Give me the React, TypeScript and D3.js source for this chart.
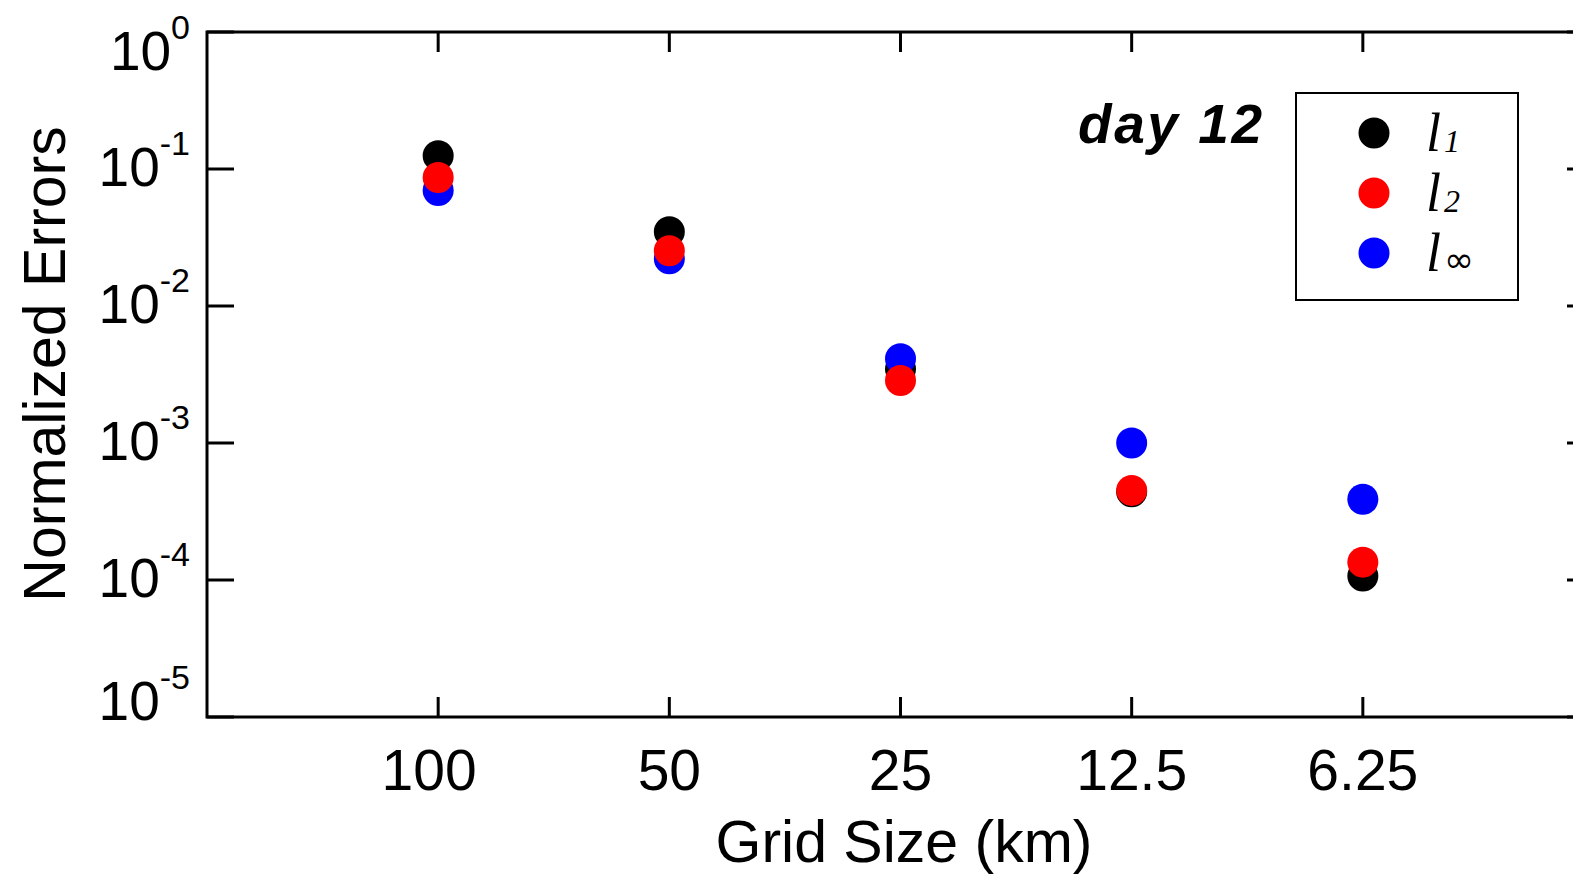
import React from "react";
import * as d3 from "d3";

// grid sizes on the x axis (km), in plotted order
const gridSizes = ["100", "50", "25", "12.5", "6.25"];

// normalized errors (day 12)
const l1Errors = [0.125, 0.0349, 0.00347, 0.00044, 0.000107];
const l2Errors = [0.0866, 0.0253, 0.00286, 0.000451, 0.000135];
const lInfErrors = [0.0696, 0.0221, 0.00412, 0.001, 0.000388];

// decade ticks of the y axis
const yExponents = [0, -1, -2, -3, -4, -5];

const series = [
  { name: "l1", sub: "1", color: "#000000", values: l1Errors },
  { name: "linf", sub: "\u221e", color: "#0000ff", values: lInfErrors },
  { name: "l2", sub: "2", color: "#ff0000", values: l2Errors },
];
const legendOrder = ["l1", "l2", "linf"];

const W = 1573;
const H = 876;
const margin = { left: 207, right: 1594, top: 32, bottom: 717 };
const font = "'Liberation Sans', Arial, Helvetica, sans-serif";

const App = () => {
  const x = d3
    .scalePoint<string>()
    .domain(gridSizes)
    .range([margin.left, margin.right])
    .padding(1);

  const y = d3
    .scaleLog()
    .domain([1e-5, 1])
    .range([margin.bottom, margin.top]);

  const yTicks = yExponents.map((e) => Math.pow(10, e));

  // label baselines relative to tick (ends pushed inside the frame)
  const labelOffset = (i: number) =>
    i === 0 ? 38 : i === yTicks.length - 1 ? 3 : 17;

  return (
    <svg
      width={W}
      height={H}
      style={{ position: "absolute", left: 0, top: 0, background: "#fff" }}
      fontFamily={font}
    >
      {/* frame */}
      <rect
        x={margin.left}
        y={margin.top}
        width={margin.right - margin.left}
        height={margin.bottom - margin.top}
        fill="none"
        stroke="#000"
        strokeWidth={3}
      />

      {/* y ticks, left and right, and labels */}
      {yTicks.map((t, i) => (
        <g key={"y" + i}>
          <line
            x1={margin.left}
            x2={margin.left + 27}
            y1={y(t)}
            y2={y(t)}
            stroke="#000"
            strokeWidth={3}
          />
          <line
            x1={margin.right}
            x2={margin.right - 27}
            y1={y(t)}
            y2={y(t)}
            stroke="#000"
            strokeWidth={3}
          />
          <text
            x={190}
            y={y(t) + labelOffset(i)}
            textAnchor="end"
            fontSize={55}
          >
            10
            <tspan dy={-31} fontSize={34}>
              {String(yExponents[i])}
            </tspan>
          </text>
        </g>
      ))}

      {/* x ticks, bottom and top, and labels */}
      {gridSizes.map((g, i) => (
        <g key={"x" + g}>
          <line
            x1={x(g)}
            x2={x(g)}
            y1={margin.bottom}
            y2={margin.bottom - 20}
            stroke="#000"
            strokeWidth={3}
          />
          <line
            x1={x(g)}
            x2={x(g)}
            y1={margin.top}
            y2={margin.top + 20}
            stroke="#000"
            strokeWidth={3}
          />
          <text
            x={x(g)}
            dx={i === 0 ? -9 : 0}
            y={790}
            textAnchor="middle"
            fontSize={57}
          >
            {g}
          </text>
        </g>
      ))}

      {/* axis titles */}
      <text x={904} y={862} textAnchor="middle" fontSize={59}>
        Grid Size (km)
      </text>
      <text
        transform={`translate(65,364) rotate(-90)`}
        textAnchor="middle"
        fontSize={59}
      >
        Normalized Errors
      </text>

      {/* data points: black, then blue, then red on top */}
      {series.map((s) => (
        <g key={s.name}>
          {s.values.map((v, i) => (
            <circle
              key={i}
              cx={x(gridSizes[i])}
              cy={y(v)}
              r={15.5}
              fill={s.color}
            />
          ))}
        </g>
      ))}

      {/* annotation */}
      <text
        x={1078}
        y={143}
        fontSize={55}
        fontWeight="bold"
        fontStyle="italic"
        textLength={184}
        lengthAdjust="spacing"
      >
        day 12
      </text>

      {/* legend */}
      <rect
        x={1296}
        y={93}
        width={222}
        height={207}
        fill="#fff"
        stroke="#000"
        strokeWidth={2}
      />
      {legendOrder.map((n, i) => {
        const s = series.find((d) => d.name === n)!;
        const cy = 133 + i * 60;
        const inf = s.sub === "\u221e";
        return (
          <g key={"leg" + n}>
            <circle cx={1374} cy={cy} r={15.5} fill={s.color} />
            <text
              x={1426}
              y={cy + 18}
              fontFamily="'Liberation Serif', 'DejaVu Serif', serif"
              fontStyle="italic"
              fontSize={54}
            >
              l
              <tspan
                dx={3}
                dy={1}
                fontSize={inf ? 36 : 32}
                fontStyle={inf ? "normal" : "italic"}
                fontFamily={
                  inf
                    ? "'DejaVu Sans', sans-serif"
                    : "'Liberation Serif', serif"
                }
              >
                {s.sub}
              </tspan>
            </text>
          </g>
        );
      })}
    </svg>
  );
};

export default App;
